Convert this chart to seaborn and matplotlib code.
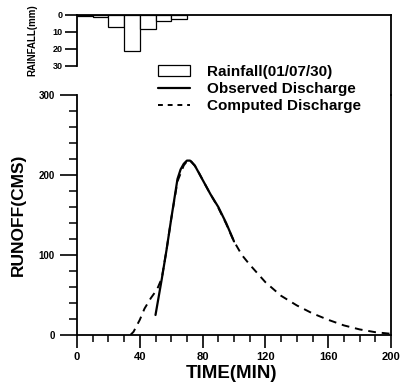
import matplotlib
matplotlib.use("Agg")
import matplotlib.pyplot as plt
import seaborn as sns
import numpy as np
import pandas as pd
from matplotlib.patches import Patch
from matplotlib.lines import Line2D
from matplotlib.ticker import MultipleLocator

# ---- data ----
rain_time = [5, 15, 25, 35, 45, 55, 65]
rain_mm = [0.3, 1.2, 7.0, 21.5, 8.3, 3.4, 2.2]

obs_time = [50, 54, 57, 60, 64, 66, 68, 70, 72, 75, 80, 85, 90, 95, 100]
obs_q = [25, 70, 106, 145, 195, 207, 214, 218, 218, 212, 194, 176, 160, 140, 117]

comp_time = [34, 36, 40, 43, 47, 51, 54, 57, 60, 64, 68, 70, 72, 76, 80, 85, 90, 95,
             100, 105, 110, 115, 120, 130, 140, 150, 160, 170, 180, 190, 200]
comp_q = [0, 4, 19, 33, 46, 57, 71, 106, 145, 192, 212, 217, 219, 209, 194, 176, 159, 139,
          117, 100, 88, 77, 66, 49, 37, 27, 19, 12, 7, 3.5, 1.5]

legend_labels = ["Rainfall(01/07/30)", "Observed Discharge", "Computed Discharge"]

sns.set_style("ticks")
plt.rcParams['font.family'] = ['Liberation Sans', 'DejaVu Sans']
plt.rcParams['font.weight'] = 'bold'
for k in ['text.color', 'axes.labelcolor', 'xtick.color', 'ytick.color', 'axes.edgecolor']:
    plt.rcParams[k] = 'black'

fig = plt.figure(figsize=(4.0, 3.87), dpi=100)
W, H = 400, 387
L, R = 77, 391
main_top, main_bot = 95, 335
rain_top = 15

ax = fig.add_axes([L / W, 1 - main_bot / H, (R - L) / W, (main_bot - main_top) / H])
axr = fig.add_axes([L / W, 1 - main_top / H, (R - L) / W, (main_top - rain_top) / H])

# ---- rainfall ----
rdf = pd.DataFrame({"t": rain_time, "r": rain_mm})
sns.barplot(data=rdf, x="t", y="r", native_scale=True, width=1.0, color="white",
            saturation=1, edgecolor="black", linewidth=0.9, errorbar=None, ax=axr)
axr.set_xlim(0, 200)
axr.set_ylim((main_top - rain_top) / 1.69, 0)
axr.set_yticks([0, 10, 20, 30])
axr.spines['bottom'].set_visible(False)
axr.spines['left'].set_bounds(0, 30)
for s in ['top', 'left', 'right']:
    axr.spines[s].set_linewidth(1.3)
    axr.spines[s].set_color('black')
axr.tick_params(axis='x', bottom=False, labelbottom=False)
axr.tick_params(axis='y', direction='out', length=8.5, width=1.2, labelsize=6.5, pad=2)
axr.set_xlabel("")
axr.set_ylabel("RAINFALL(mm)", fontsize=7, fontweight='bold')
axr.yaxis.set_label_coords(-0.127, 1 - (40 - rain_top) / (main_top - rain_top))
axr.patch.set_alpha(0)

# ---- discharge ----
sns.lineplot(x=obs_time, y=obs_q, ax=ax, color="black", linewidth=1.6)
sns.lineplot(x=comp_time, y=comp_q, ax=ax, color="black", linewidth=1.4)
ax.lines[-1].set_linestyle((0, (4, 3)))
ax.set_xlim(0, 200)
ax.set_ylim(0, 300)
ax.xaxis.set_major_locator(MultipleLocator(40))
ax.xaxis.set_minor_locator(MultipleLocator(10))
ax.yaxis.set_major_locator(MultipleLocator(100))
ax.yaxis.set_minor_locator(MultipleLocator(20))
ax.spines['top'].set_visible(False)
for s in ['left', 'bottom', 'right']:
    ax.spines[s].set_linewidth(1.3)
    ax.spines[s].set_color('black')
ax.tick_params(which='major', direction='out', length=9, width=1.2, pad=3)
ax.tick_params(which='minor', direction='out', length=5, width=1.1)
ax.tick_params(axis='x', which='major', labelsize=8)
ax.tick_params(axis='y', which='major', length=12, labelsize=7, pad=4)
ax.tick_params(axis='y', which='minor', length=6)
for lab in ax.get_xticklabels() + ax.get_yticklabels() + axr.get_yticklabels():
    lab.set_fontweight('bold')
ax.set_xlabel("TIME(MIN)", fontsize=13.5, fontweight='bold')
ax.set_ylabel("RUNOFF(CMS)", fontsize=12.5, fontweight='bold')
ax.xaxis.set_label_coords((232 - L) / (R - L), -(365 - main_bot) / (main_bot - main_top))
ax.yaxis.set_label_coords((26 - L) / (R - L), 0.5)

handles = [Patch(facecolor='white', edgecolor='black', linewidth=0.9),
           Line2D([], [], color='black', linewidth=1.6),
           Line2D([], [], color='black', linewidth=1.4, linestyle=(0, (2.5, 2.5)))]
fig.legend(handles, legend_labels, loc='upper left', bbox_to_anchor=(158 / W, 1 - 65 / H),
           frameon=False, prop={'weight': 'bold', 'size': 11},
           handlelength=2.1, handletextpad=1.1, labelspacing=0.2, borderpad=0,
           borderaxespad=0)

fig.savefig("out.png", dpi=100)
